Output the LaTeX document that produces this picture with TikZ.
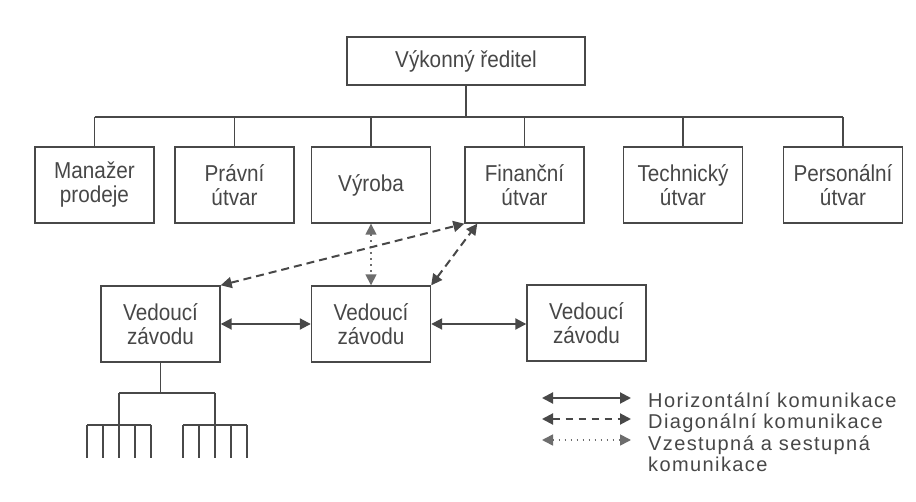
\documentclass[tikz,border=0pt]{standalone}
\usepackage{fontspec}
\setmainfont{Liberation Sans}
\newfontfamily\boxfont{Liberation Sans}[FakeStretch=0.9]
\newfontfamily\legfont{Liberation Sans}[LetterSpace=7]
\usetikzlibrary{arrows.meta}
\definecolor{ink}{HTML}{484848}
\definecolor{txt}{HTML}{474747}
\begin{document}
\begin{tikzpicture}[x=1pt,y=-1pt,
  box/.style={draw=ink, line width=1.4pt, minimum width=119pt, minimum height=76pt,
    inner sep=2pt, align=center, text=txt, font=\boxfont\fontsize{23}{24}\selectfont},
  conn/.style={draw=ink, line width=1.4pt},
  tipboth/.style={{Triangle[length=11pt,width=11pt]}-{Triangle[length=11pt,width=11pt]}},
  harrow/.style={draw=ink, line width=2pt, tipboth},
  darrow/.style={draw=ink, line width=2pt, dash pattern=on 8pt off 5pt, tipboth},
  varrow/.style={draw=ink!80, line width=1.6pt, dash pattern=on 1.5pt off 4.5pt, tipboth},
  legtext/.style={anchor=west, inner sep=0pt, align=left, text=txt, font=\legfont\fontsize{20}{21.5}\selectfont}
]
\useasboundingbox[fill=white] (0,0) rectangle (916,502);

% top
\node[box, minimum width=238pt, minimum height=48pt] (ceo) at (466,61) {Výkonný ředitel};
\coordinate (bus) at (466,117);

% first row
\node[box] (m1) at (94.5,185) {Manažer\\prodeje};
\node[box] (m2) at (234.5,185) {Právní\\útvar};
\node[box] (m3) at (371,185) {Výroba};
\node[box] (m4) at (524.5,185) {Finanční\\útvar};
\node[box] (m5) at (683,185) {Technický\\útvar};
\node[box] (m6) at (843,185) {Personální\\útvar};

\draw[conn] (ceo.south) -- (bus);
\draw[conn] (m1.north |- bus) -- (m6.north |- bus);
\foreach \n in {m1,m2,m3,m4,m5,m6}
  \draw[conn] (\n.north) -- (\n.north |- bus);

% second row
\node[box] (v1) at (160.5,324) {Vedoucí\\závodu};
\node[box] (v2) at (371,324) {Vedoucí\\závodu};
\node[box] (v3) at (586.5,323) {Vedoucí\\závodu};

\draw[harrow] (v1.east) -- (v2.west);
\draw[harrow] (v2.east) -- (v2.east -| v3.west);
\draw[varrow] (m3.south) -- (v2.north);
\draw[darrow] (v1.north east) -- (m4.south west);
\draw[darrow] (v2.north east) -- ([xshift=13pt]m4.south west);

% subordinate tree
\coordinate (j) at (160.5,393);
\coordinate (ca) at (119,425);
\coordinate (cb) at (215,425);
\draw[conn] (v1.south) -- (j);
\draw[conn] (ca |- j) -- (cb |- j);
\draw[conn] (ca |- j) -- (ca);
\draw[conn] (cb |- j) -- (cb);
\foreach \c in {ca,cb}{
  \draw[conn] ([xshift=-32pt]\c) -- ([xshift=32pt]\c);
  \foreach \d in {-32,-16,0,16,32}
    \draw[conn] ([xshift=\d pt]\c) -- ([xshift=\d pt,yshift=-33pt]\c);
}

% legend
\coordinate (la1) at (542,398); \coordinate (lb1) at (631,398);
\coordinate (la2) at (542,419); \coordinate (lb2) at (631,419);
\coordinate (la3) at (542,440); \coordinate (lb3) at (631,440);
\draw[harrow] (la1) -- (lb1);
\draw[darrow, dash pattern=on 7pt off 6pt] (la2) -- (lb2);
\draw[varrow] (la3) -- (lb3);
\node[legtext] (leg) at (648,432) {Horizontální komunikace\\Diagonální komunikace\\Vzestupná a sestupná\\komunikace};
\end{tikzpicture}
\end{document}
